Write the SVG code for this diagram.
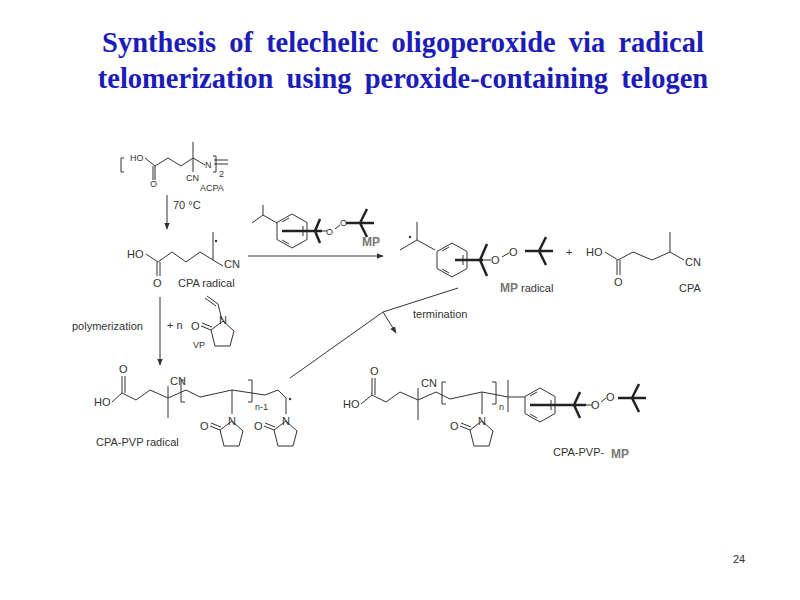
<svg xmlns="http://www.w3.org/2000/svg" width="800" height="600" viewBox="0 0 800 600">
<style>
.t{font-family:"Liberation Serif",serif;font-weight:bold;font-size:28.5px;fill:#1c1cb8;text-anchor:middle;word-spacing:6px}
.s{font-family:"Liberation Sans",sans-serif;font-size:11px;fill:#333}
.xs{font-family:"Liberation Sans",sans-serif;font-size:9px;fill:#333}
.g{font-family:"Liberation Sans",sans-serif;font-size:12px;font-weight:bold;fill:#777}
.b{fill:none;stroke:#333;stroke-width:1}
.k{fill:none;stroke:#222;stroke-width:2.5}
</style>
<defs>
<marker id="ah" viewBox="0 0 10 10" refX="9" refY="5" markerWidth="7" markerHeight="7" orient="auto"><path d="M0,1 L10,5 L0,9 z" fill="#333"/></marker>
<g id="pyr">
<path class="b" d="M0,0 L11,10 L7,25 L-8,25 L-12,9 Z"/>
<path class="b" d="M-12,9 L-22,5 M-11,6 L-21,2"/>
<text class="s" x="-32" y="9">O</text>
</g>
<g id="benz">
<polygon class="b" points="0,-17 15,-8.5 15,8.5 0,17 -15,8.5 -15,-8.5"/>
<path class="b" d="M11,-5 L11,5 M-3,13 L-10,9 M-10,-9 L-3,-13"/>
</g>
<g id="tbu">
<path class="k" d="M-14,0 L14,0 M0,0 L-7,-14 M0,0 L-7,14"/>
</g>
</defs>
<text class="t" x="403" y="52">Synthesis of telechelic oligoperoxide via radical</text>
<text class="t" x="403" y="88">telomerization using peroxide-containing telogen</text>

<g id="acpa">
<path class="b" d="M124,158 L121,158 L121,172 L124,172"/>
<text class="xs" x="130" y="161">HO</text>
<path class="b" d="M145,158 L155,166 L168,158 L181,166 L193,158 L193,142 M193,158 L193,172 M193,158 L205,165 M214,160 L228,160 M214,164 L228,164 M155,166 L155,180 M153,166 L153,180"/>
<text class="xs" x="150" y="187">O</text>
<text class="xs" x="186" y="181">CN</text>
<text class="xs" x="205" y="168">N</text>
<path class="b" d="M213,156 L216,156 L216,172 L213,172"/>
<text class="xs" x="219" y="177" font-size="7">2</text>
<text class="xs" x="200" y="191">ACPA</text>
</g>

<g id="cpa-radical">
<text class="s" x="127" y="258">HO</text>
<path class="b" d="M146,254 L158,262 L172,252 L186,262 L200,252 L213,260 L213,232 M213,260 L223,266 M157,262 L157,276 M160,262 L160,276"/>
<circle cx="216" cy="241" r="1.2" fill="#333"/>
<text class="s" x="224" y="268">CN</text>
<text class="s" x="153" y="287">O</text>
<text class="s" x="178" y="287">CPA radical</text>
</g>

<g id="mp">
<path class="b" d="M252,223 L263,215 L263,205 M263,215 L277,223"/>
<use href="#benz" x="292" y="231"/>
<path class="k" d="M282,231 L322,231 M315,231 L320,219 M315,231 L320,243"/>
<path class="b" d="M322,231 L327,231 M335,229 L340,225"/>
<text class="xs" x="326" y="235">O</text>
<text class="xs" x="340" y="226">O</text>
<use href="#tbu" x="360" y="223" transform="scale(-1,1) translate(-720,0)"/>
<text class="g" x="362" y="246">MP</text>
</g>

<g id="mp-radical">
<path class="b" d="M400,250 L417,240 L417,222 M417,240 L435,250"/>
<circle cx="410" cy="237" r="1.2" fill="#333"/>
<use href="#benz" x="452" y="260"/>
<path class="k" d="M455,260 L483,260 M480,260 L487,244 M480,260 L487,276"/>
<path class="b" d="M483,260 L491,260 M502,257 L509,253"/>
<text class="s" x="491" y="264">O</text>
<text class="s" x="509" y="256">O</text>
<use href="#tbu" transform="translate(1078,0) scale(-1,1)" x="539" y="251"/>
<text class="g" x="500" y="292">MP</text>
<text class="s" x="521" y="292">radical</text>
</g>
<text class="s" x="566" y="256">+</text>

<g id="cpa">
<text class="s" x="586" y="256">HO</text>
<path class="b" d="M605,252 L618,260 L633,252 L652,260 L670,252 L670,232 M670,252 L684,260 M617,260 L617,275 M620,260 L620,275"/>
<text class="s" x="614" y="286">O</text>
<text class="s" x="685" y="266">CN</text>
<text class="s" x="679" y="292">CPA</text>
</g>

<g id="vp">
<text class="s" x="167" y="329" font-size="9">+ n</text>
<path class="b" d="M222,320 L218,304 L207,296 M216,306 L205,298"/>
<use href="#pyr" x="223" y="321"/>
<text class="s" x="219" y="324" font-size="10">N</text>
<text class="xs" x="193" y="348">VP</text>
</g>
<text class="s" x="72" y="330">polymerization</text>

<g id="cpa-pvp-radical">
<text class="s" x="94" y="406">HO</text>
<path class="b" d="M112,402 L122,393 L136,400 L150,390 L168,398 L168,418 M168,398 L168,386 M122,393 L122,376 M125,393 L125,376 M168,398 L186,390 L200,397 L232,390 L232,414 M232,390 L265,395 L278,390 L286,398 L286,414"/>
<path class="b" d="M185,380 L181,380 L181,402 L185,402 M248,380 L252,380 L252,402 L248,402"/>
<text class="s" x="119" y="373">O</text>
<text class="s" x="170" y="385">CN</text>
<text class="xs" x="255" y="410" font-size="8">n-1</text>
<circle cx="290" cy="399" r="1.2" fill="#333"/>
<use href="#pyr" x="232" y="421"/>
<text class="s" x="228" y="425">N</text>
<use href="#pyr" x="286" y="421"/>
<text class="s" x="282" y="425">N</text>
<text class="s" x="96" y="446">CPA-PVP radical</text>
</g>

<g id="cpa-pvp-mp">
<text class="s" x="343" y="408">HO</text>
<path class="b" d="M361,404 L372,395 L386,402 L400,392 L418,400 L418,420 M418,400 L418,388 M372,395 L372,378 M375,395 L375,378 M418,400 L436,392 L450,399 L482,392 L482,414 M482,392 L508,397 L508,380 M508,397 L508,412 M508,397 L525,397"/>
<path class="b" d="M446,382 L442,382 L442,404 L446,404 M492,382 L496,382 L496,404 L492,404"/>
<text class="s" x="370" y="375">O</text>
<text class="s" x="421" y="387">CN</text>
<text class="xs" x="499" y="410" font-size="8">n</text>
<use href="#pyr" x="482" y="421"/>
<text class="s" x="478" y="425">N</text>
<use href="#benz" x="540" y="405"/>
<path class="k" d="M530,405 L586,405 M574,405 L580,392 M574,405 L580,418"/>
<path class="b" d="M586,405 L592,405 M601,402 L606,398"/>
<text class="s" x="591" y="409">O</text>
<text class="s" x="606" y="401">O</text>
<use href="#tbu" transform="translate(1264,0) scale(-1,1)" x="632" y="398"/>
<text class="s" x="553" y="456">CPA-PVP-</text>
<text class="g" x="611" y="458">MP</text>
</g>

<g id="connectors">
<line class="b" x1="167" y1="195" x2="167" y2="229" marker-end="url(#ah)"/>
<line class="b" x1="248" y1="256" x2="383" y2="256" marker-end="url(#ah)"/>
<line class="b" x1="160" y1="297" x2="160" y2="365" marker-end="url(#ah)"/>
<path class="b" d="M290,378 L383,312 L458,288"/>
<line class="b" x1="383" y1="312" x2="396" y2="333" marker-end="url(#ah)"/>
</g>
<text class="s" x="173" y="209" font-size="9">70 °C</text>
<text class="s" x="413" y="318">termination</text>
<text class="s" x="733" y="563" font-size="15">24</text>
</svg>
